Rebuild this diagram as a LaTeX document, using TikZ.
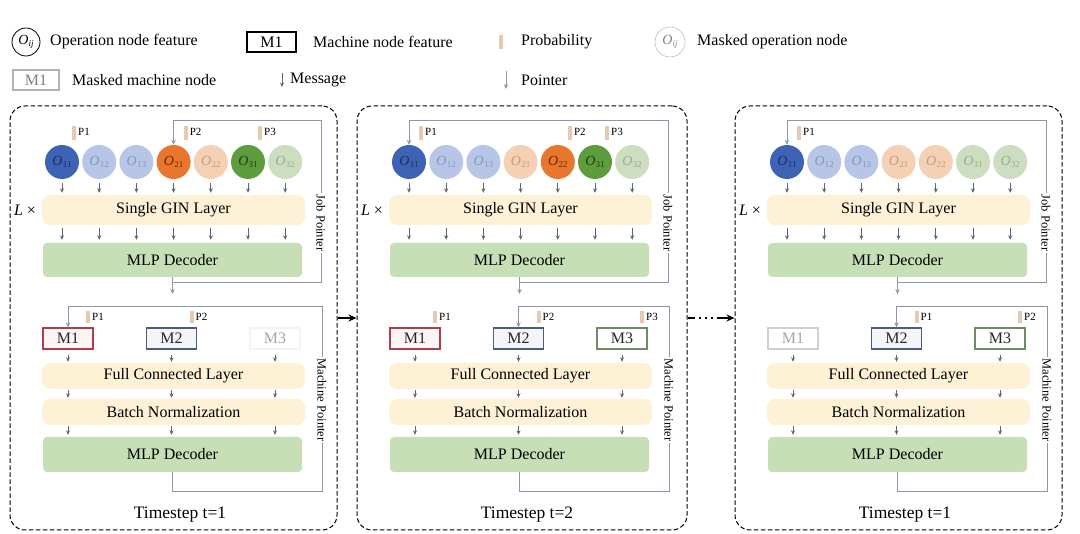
\documentclass[tikz,border=0pt]{standalone}
\usepackage{fontspec}
\setmainfont{Liberation Serif}
\usetikzlibrary{arrows.meta,calc}
\definecolor{dkB}{HTML}{3E63B5}
\definecolor{dkBT}{HTML}{1B2B63}
\definecolor{ltB}{HTML}{B7C6E7}
\definecolor{ltBT}{HTML}{8394BF}
\definecolor{dkO}{HTML}{E8762C}
\definecolor{dkOT}{HTML}{6B2508}
\definecolor{ltO}{HTML}{F4D0B4}
\definecolor{ltOT}{HTML}{C49A7A}
\definecolor{dkG}{HTML}{5E9D3E}
\definecolor{dkGT}{HTML}{1E3A10}
\definecolor{ltG}{HTML}{CCDDC0}
\definecolor{ltGT}{HTML}{98AD8C}
\definecolor{bandY}{HTML}{FDF1D6}
\definecolor{decG}{HTML}{C6DFB6}
\definecolor{probC}{HTML}{E6C9B1}
\definecolor{ptrC}{HTML}{8D97AB}
\definecolor{msgC}{HTML}{5E6670}
\definecolor{mR}{HTML}{B03C4C}
\definecolor{mB}{HTML}{4C5C7E}
\definecolor{mG}{HTML}{6E8C62}
\definecolor{mX}{HTML}{D0D0D0}
\newcommand\opl[1]{\textit{O}\kern0.3pt\raisebox{-2.5pt}{\fontsize{9}{9}\selectfont #1}}
\newcommand\mkpanel[8]{%
\begin{scope}[shift={(#1,0)}]
\node[panelbox, minimum width=#3pt] (#2F) at ({#3/2},318) {};
\node[band, minimum height=30pt] (#2G) at (163.5,210) {Single GIN Layer};
\node[decbox, minimum height=34pt] (#2D) at (162.5,260) {MLP Decoder};
\node[band, minimum height=26pt] (#2FC) at (163.5,376) {Full Connected Layer};
\node[band, minimum height=26pt] (#2BN) at (163.5,412) {Batch Normalization};
\node[decbox, minimum height=35pt] (#2E) at (162.5,454.5) {MLP Decoder};
\node (#2L) at (15,210) {\textit{L} ×};
\node[font=\fontsize{17.5}{18}\selectfont] (#2T) at (170,515) {#5};
\foreach \fc/\tc/\lab [count=\i] in {#4} {
 \node[opnode, fill=\fc, text=\tc] (#2c\i) at ({52+37.2*(\i-1)},162) {\opl{\lab}};
 \draw[msg] ($(#2c\i.south)+(0,4)$) -- ($(#2c\i.south |- #2G.north)+(0,-2)$);
 \draw[msg] ($(#2c\i.south |- #2G.south)+(0,3)$) -- ($(#2c\i.south |- #2D.north)+(0,-3)$);
}
\foreach \dc/\fc/\tc/\lab [count=\i] in {#6} {
 \node[mach, draw=\dc, fill=\fc, text=\tc] (#2M\i) at ({58+103.5*(\i-1)},338.5) {\lab};
 \draw[msg] ($(#2M\i.south)+(0,5)$) -- ($(#2M\i.south |- #2FC.north)+(0,-1)$);
 \draw[msg] ($(#2M\i.south |- #2FC.south)+(0,1)$) -- ($(#2M\i.south |- #2BN.north)+(0,-1)$);
 \draw[msg] ($(#2M\i.south |- #2BN.south)+(0,1)$) -- ($(#2M\i.south |- #2E.north)+(0,-2)$);
}
\coordinate (#2jb) at (311,283);
\coordinate (#2jt) at (311,121);
\coordinate (#2mb) at (312,492);
\coordinate (#2mt) at (312,307);
\coordinate (#2o) at (162.5,294);
\draw[ptr] (#2D.south) -- (#2o);
\draw[ptr] (#2D.south) |- (#2jb) -- (#2jt) -| (#2c#7.north);
\node[vlab] (#2JL) at (311,223) {Job Pointer};
\draw[ptr] (#2E.south) |- (#2mb) -- (#2mt) -| (#2M#8.north);
\node[vlab] (#2ML) at (312,400) {Machine Pointer};
\end{scope}}
\newcommand\jprob[3]{\node[prob] (#1) at ($(#2)+(12,-29)$) {}; \node[plab] (#1t) at ($(#2)+(16,-30)$) {#3};}
\newcommand\mprob[3]{\node[prob, minimum height=12pt] (#1) at ($(#2)+(20,-21)$) {}; \node[plab] (#1t) at ($(#2)+(24,-22)$) {#3};}
\begin{document}
\begin{tikzpicture}[x=1pt,y=-1pt,
  every node/.style={font=\fontsize{16}{17}\selectfont},
  opnode/.style={circle, minimum size=34pt, inner sep=0pt, font=\fontsize{14}{14}\selectfont},
  mach/.style={draw, line width=1.2pt, minimum width=50pt, minimum height=21pt, inner sep=0pt},
  band/.style={fill=bandY, rounded corners=8pt, minimum width=263pt, inner sep=0pt},
  decbox/.style={fill=decG, rounded corners=4pt, minimum width=259pt, inner sep=0pt},
  msg/.style={draw=msgC, line width=0.8pt, -{Stealth[length=4.5pt,width=4pt]}},
  ptr/.style={draw=ptrC, line width=1pt, -{Stealth[length=5pt,width=4.5pt]}},
  prob/.style={fill=probC, minimum width=4pt, minimum height=14pt, inner sep=0pt},
  plab/.style={anchor=west, inner sep=0pt, font=\fontsize{11}{11}\selectfont},
  txt/.style={anchor=west, inner sep=0pt},
  vlab/.style={rotate=-90, fill=white, inner sep=1.5pt, font=\fontsize{12.5}{13}\selectfont},
  panelbox/.style={draw, line width=1pt, dash pattern=on 4.5pt off 2.5pt, rounded corners=15pt, minimum height=424pt, inner sep=0pt}]
\useasboundingbox (0,0) rectangle (1080,534);
% legend
\node[opnode, draw=black, line width=0.8pt, fill=white, minimum size=28pt] (lgO) at (26,42) {\opl{\textit{ij}}};
\node[txt] (lgOt) at (50,42) {Operation node feature};
\node[mach, draw=black, line width=1.5pt, minimum width=49pt, minimum height=20pt] (lgM) at (271.5,42) {M1};
\node[txt] (lgMt) at (313,42) {Machine node feature};
\node[prob] (lgP) at (501,42) {};
\node[txt] (lgPt) at (521,42) {Probability};
\node[opnode, draw=gray!50, line width=0.6pt, minimum size=30pt, text=gray, fill=white] (lgX) at (670,42) {\opl{\textit{ij}}};
\node[txt] (lgXt) at (697,42) {Masked operation node};
\node[mach, draw=gray!60, text=gray, line width=1.2pt, minimum width=46pt, minimum height=20pt] (lgMM) at (36,80) {M1};
\node[txt] (lgMMt) at (72,80) {Masked machine node};
\coordinate (lgA1) at (282,73);
\coordinate (lgA2) at (282,87);
\draw[msg] (lgA1) -- (lgA2);
\node[txt] (lgAt) at (290,80) {Message};
\coordinate (lgB1) at (506,71);
\coordinate (lgB2) at (506,89);
\draw[ptr] (lgB1) -- (lgB2);
\node[txt] (lgBt) at (521,80) {Pointer};
% panels
\mkpanel{10}{p1}{327}{dkB/dkBT/11, ltB/ltBT/12, ltB/ltBT/13, dkO/dkOT/21, ltO/ltOT/22, dkG/dkGT/31, ltG/ltGT/32}{Timestep t=1}{mR/mR!5/black!85/M1, mB/mB!6/black!85/M2, mX!25/white/gray!70/M3}{4}{1}
\jprob{p1j1}{p1c1}{P1}
\jprob{p1j2}{p1c4}{P2}
\jprob{p1j3}{p1c6}{P3}
\mprob{p1m1}{p1M1}{P1}
\mprob{p1m2}{p1M2}{P2}
\mkpanel{357}{p2}{330}{dkB/dkBT/11, ltB/ltBT/12, ltB/ltBT/13, ltO/ltOT/21, dkO/dkOT/22, dkG/dkGT/31, ltG/ltGT/32}{Timestep t=2}{mR/mR!5/black!85/M1, mB/mB!6/black!85/M2, mG/white/black!85/M3}{1}{2}
\jprob{p2j1}{p2c1}{P1}
\jprob{p2j2}{p2c5}{P2}
\jprob{p2j3}{p2c6}{P3}
\mprob{p2m1}{p2M1}{P1}
\mprob{p2m2}{p2M2}{P2}
\mprob{p2m3}{p2M3}{P3}
\mkpanel{735}{p3}{327}{dkB/dkBT/11, ltB/ltBT/12, ltB/ltBT/13, ltO/ltOT/21, ltO/ltOT/22, ltG/ltGT/31, ltG/ltGT/32}{Timestep t=1}{mX/white/gray!70/M1, mB/mB!6/black!85/M2, mG/white/black!85/M3}{1}{2}
\jprob{p3j1}{p3c1}{P1}
\mprob{p3m1}{p3M2}{P1}
\mprob{p3m2}{p3M3}{P2}
% between panels
\draw[line width=1.6pt, -{Stealth[length=8pt,width=7pt]}] (p1F.east) -- (p2F.west);
\draw[line width=2pt, dash pattern=on 7pt off 4pt on 2pt off 4pt on 2pt off 4pt on 2pt off 4pt on 30pt, -{Stealth[length=8pt,width=7pt]}] (p2F.east) -- (p3F.west);
\end{tikzpicture}
\end{document}
